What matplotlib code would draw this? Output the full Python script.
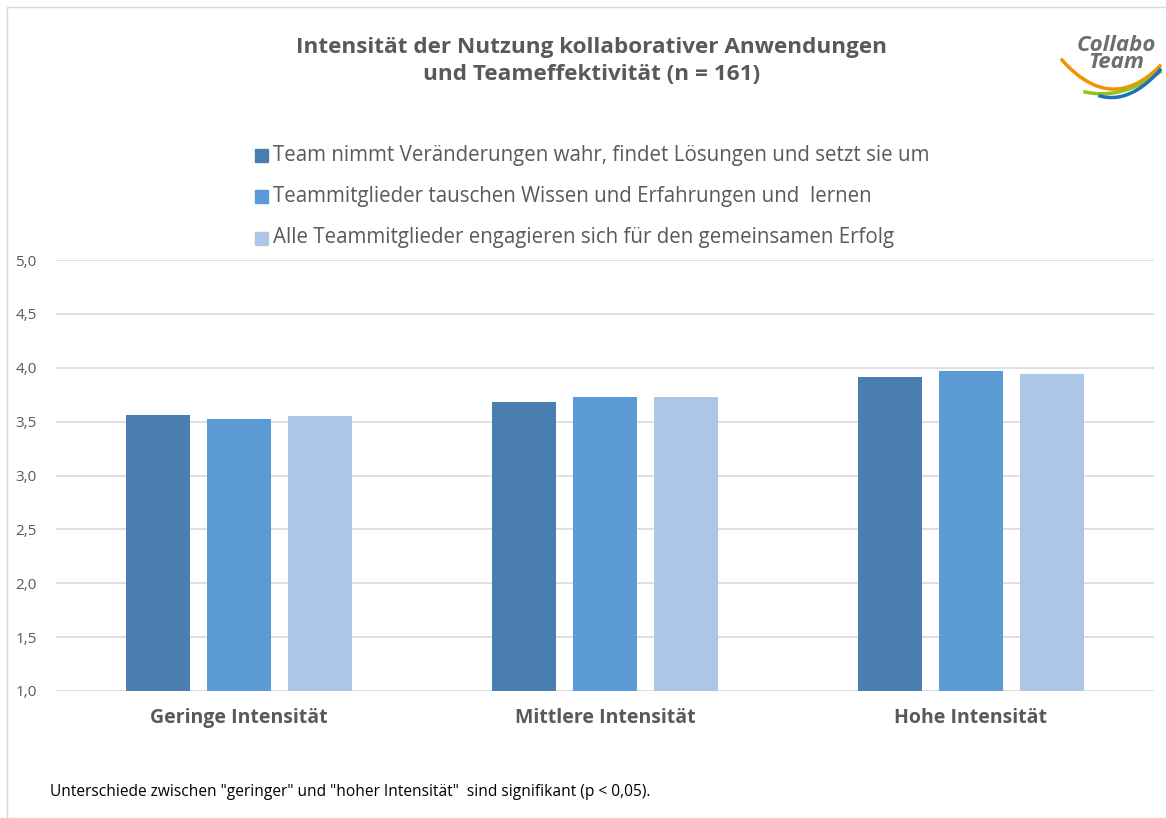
import matplotlib.pyplot as plt
import matplotlib.patches as mpatches
import numpy as np

categories = ["Geringe Intensität", "Mittlere Intensität", "Hohe Intensität"]
series_names = [
    "Team nimmt Veränderungen wahr, findet Lösungen und setzt sie um",
    "Teammitglieder tauschen Wissen und Erfahrungen und  lernen",
    "Alle Teammitglieder engagieren sich für den gemeinsamen Erfolg",
]
veraenderung = [3.56, 3.68, 3.91]
wissen = [3.52, 3.73, 3.97]
engagement = [3.55, 3.73, 3.94]
colors = ["#4A7EB0", "#5B9BD5", "#ADC6E5"]

plt.rcParams['font.family'] = ['Open Sans', 'DejaVu Sans']
grey = "#595959"

fig = plt.figure(figsize=(11.66, 8.18), dpi=100)
ax = fig.add_axes([56 / 1166, 1 - 691 / 818, (1154 - 56) / 1166, (691 - 260) / 818])

x = np.arange(len(categories))
w = 0.175
off = 0.221
for i, (vals, c) in enumerate(zip([veraenderung, wissen, engagement], colors)):
    ax.bar(x + (i - 1) * off, np.array(vals) - 1.0, w, bottom=1.0, color=c, zorder=3)

ax.set_xlim(-0.5, 2.5)
ax.set_ylim(1.0, 5.0)
ax.set_yticks(np.arange(1.0, 5.01, 0.5))
ax.set_yticklabels([f"{v:.1f}".replace(".", ",") for v in np.arange(1.0, 5.01, 0.5)],
                   fontsize=11, color=grey)
ax.set_xticks(x)
ax.set_xticklabels(categories, fontsize=14, fontweight="bold", color=grey)
ax.tick_params(axis="x", length=0, pad=12)
ax.tick_params(axis="y", length=0, pad=14)
ax.grid(axis="y", color="#D9D9D9", linewidth=1.2, zorder=0)
for s in ax.spines.values():
    s.set_visible(False)

fig.text(592 / 1166, 1 - 61 / 818,
         "Intensität der Nutzung kollaborativer Anwendungen\nund Teameffektivität (n = 161)",
         ha="center", va="center", fontsize=16.2, fontweight="bold", color=grey,
         linespacing=1.4)

# legend as stacked entries
for i, (name, c) in enumerate(zip(series_names, colors)):
    y = 1 - (155 + i * 41.5) / 818
    fig.patches.append(mpatches.Rectangle((255 / 1166, y - 6.5 / 818), 13 / 1166, 13 / 818,
                                          transform=fig.transFigure, color=c))
    fig.text(273 / 1166, y, name, ha="left", va="center", fontsize=14.8, color=grey)

fig.text(50 / 1166, 1 - 792 / 818,
         'Unterschiede zwischen "geringer" und "hoher Intensität"  sind signifikant (p < 0,05).',
         ha="left", va="center", fontsize=11.2, color="black")

# logo (rough sketch)
fig.text(1116 / 1166, 1 - 54 / 818, "Collabo\nTeam", ha="center", va="center",
         fontsize=16, fontweight="bold", style="italic", color="#6D6E71", linespacing=0.75)
t = np.linspace(0, 1, 60)
swooshes = [("#F39200", 1062, 60, 115, 66), ("#95C11F", 1085, 92, 100, 72),
            ("#1D71B8", 1100, 96, 104, 70)]
for col, x0, y0, ym, y1 in swooshes:
    xs = (x0 + (1160 - x0) * t) / 1166
    ys = 1 - ((1 - t) ** 2 * y0 + 2 * t * (1 - t) * ym + t ** 2 * y1) / 818
    fig.lines.append(plt.Line2D(xs, ys, transform=fig.transFigure, color=col, lw=2.5))

# outer frame
fig.patches.append(mpatches.Rectangle((7 / 1166, 0), 1.0, 1 - 7 / 818, transform=fig.transFigure,
                                      fill=False, edgecolor="#D9D9D9", lw=1))

fig.savefig("out.png", dpi=100)
